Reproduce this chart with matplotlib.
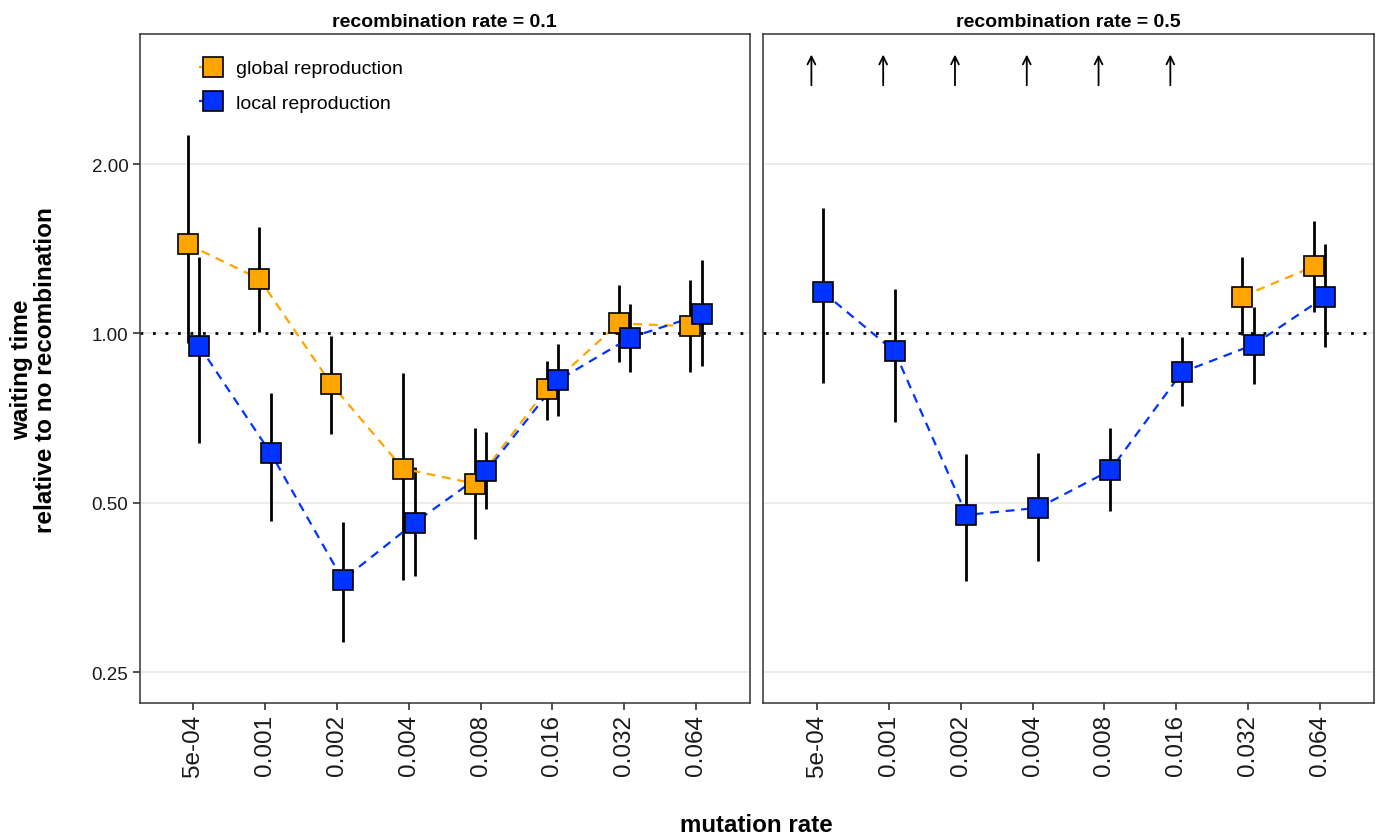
import numpy as np
import matplotlib
matplotlib.use("Agg")
import matplotlib.pyplot as plt
from matplotlib.lines import Line2D

plt.rcParams['font.family'] = ['Liberation Sans', 'DejaVu Sans']

mutation_labels = ['5e-04', '0.001', '0.002', '0.004', '0.008', '0.016', '0.032', '0.064']
panel_titles = ['recombination rate = 0.1', 'recombination rate = 0.5']
series_names = ['global reproduction', 'local reproduction']

# recombination rate = 0.1
global_mean_r01 = [1.44, 1.25, 0.813, 0.575, 0.541, 0.798, 1.042, 1.030]
global_lo_r01 = [0.963, 1.005, 0.664, 0.365, 0.432, 0.703, 0.891, 0.854]
global_hi_r01 = [2.25, 1.544, 0.988, 0.852, 0.680, 0.893, 1.218, 1.243]
local_mean_r01 = [0.951, 0.612, 0.365, 0.461, 0.569, 0.826, 0.983, 1.082]
local_lo_r01 = [0.638, 0.465, 0.283, 0.370, 0.488, 0.713, 0.854, 0.874]
local_hi_r01 = [1.366, 0.785, 0.462, 0.579, 0.668, 0.956, 1.126, 1.348]

# recombination rate = 0.5 (global values off-scale for the first six)
global_mean_r05 = [np.nan] * 6 + [1.163, 1.316]
global_lo_r05 = [np.nan] * 6 + [0.994, 1.094]
global_hi_r05 = [np.nan] * 6 + [1.367, 1.582]
global_offscale_r05 = [True, True, True, True, True, True, False, False]
local_mean_r05 = [1.185, 0.929, 0.476, 0.490, 0.571, 0.853, 0.955, 1.163]
local_lo_r05 = [0.816, 0.697, 0.363, 0.395, 0.484, 0.742, 0.814, 0.945]
local_hi_r05 = [1.670, 1.199, 0.611, 0.614, 0.678, 0.984, 1.114, 1.443]

y_ticks = [0.25, 0.5, 1.0, 2.0]
y_ticklabels = ['0.25', '0.50', '1.00', '2.00']

ORANGE = '#FFA500'
BLUE = '#0033FF'
DODGE = 0.08

W, H = 1380, 837
fig = plt.figure(figsize=(W / 100, H / 100), dpi=100)

panels = [
    dict(left=139.5, right=750, g=(global_mean_r01, global_lo_r01, global_hi_r01),
         l=(local_mean_r01, local_lo_r01, local_hi_r01), off=None),
    dict(left=763.3, right=1373.5, g=(global_mean_r05, global_lo_r05, global_hi_r05),
         l=(local_mean_r05, local_lo_r05, local_hi_r05), off=global_offscale_r05),
]
top, bottom = 35, 704
x = np.arange(1, len(mutation_labels) + 1)

axes = []
for i, p in enumerate(panels):
    ax = fig.add_axes([p['left'] / W, 1 - bottom / H, (p['right'] - p['left']) / W, (bottom - top) / H])
    axes.append(ax)
    ax.set_yscale('log', base=2)
    ax.set_ylim(0.2205, 3.405)
    ax.set_xlim(0.25, 8.75)
    ax.set_yticks(y_ticks)
    ax.minorticks_off()
    ax.yaxis.grid(True, color='#ebebeb', lw=1.3, zorder=0)
    ax.set_axisbelow(True)
    ax.axhline(1.0, color='black', lw=2, ls=(0, (1, 3.5)), zorder=1)
    series = [(p['g'], ORANGE, -DODGE), (p['l'], BLUE, DODGE)]
    for (mean, lo, hi), col, off in series:
        ax.vlines(x + off, lo, hi, color='black', lw=2, zorder=2)
    for (mean, lo, hi), col, off in series:
        ax.plot(x + off, mean, color=col, lw=1.6, dashes=(4, 3), zorder=3)
    for (mean, lo, hi), col, off in series:
        ax.plot(x + off, mean, ls='none', marker='s', ms=14.8, mfc=col, mec='black', mew=1.2, zorder=4)
    if p['off'] is not None:
        for xi, flag in zip(x, p['off']):
            if flag:
                ax.annotate('', xy=(xi - DODGE, 3.13), xytext=(xi - DODGE, 2.76),
                            arrowprops=dict(arrowstyle='->', color='black', lw=1.3,
                                            shrinkA=0, shrinkB=0, mutation_scale=14))
    ax.set_xticks(x)
    ax.set_xticklabels(mutation_labels, rotation=90, fontsize=17.5, color='#1a1a1a')
    ax.tick_params(axis='both', length=5, width=1.2, color='#333333', pad=3)
    ax.tick_params(axis='y', labelsize=13.5, labelcolor='#1a1a1a')
    if i == 0:
        ax.set_yticklabels(y_ticklabels)
    else:
        ax.tick_params(axis='y', left=False, labelleft=False)
    for s in ax.spines.values():
        s.set_color('#333333')
        s.set_linewidth(1.1)
    ax.set_title(panel_titles[i], fontsize=14, fontweight='bold', pad=6)

handles = [
    Line2D([], [], color=ORANGE, lw=1.6, dashes=(4, 3), marker='s', ms=14.8,
           mfc=ORANGE, mec='black', mew=1.2),
    Line2D([], [], color=BLUE, lw=1.6, dashes=(4, 3), marker='s', ms=14.8,
           mfc=BLUE, mec='black', mew=1.2),
]
axes[0].legend(handles, series_names, loc='upper left', bbox_to_anchor=(0.084, 0.973),
               frameon=False, fontsize=14, handlelength=1.45, handletextpad=0.5,
               labelspacing=0.87, borderaxespad=0)

fig.text(34 / W, 1 - 370 / H, 'waiting time\nrelative to no recombination', rotation=90,
         ha='center', va='center', fontsize=17.5, fontweight='bold', multialignment='center',
         linespacing=1.05)
fig.text(756 / W, 1 - 826 / H, 'mutation rate', ha='center', va='center',
         fontsize=17.4, fontweight='bold')

fig.savefig('out.png', dpi=100, facecolor='white')
